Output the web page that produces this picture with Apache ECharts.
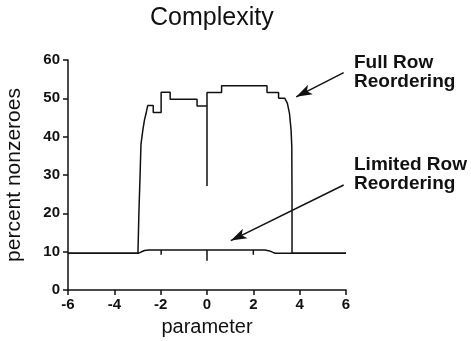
<!DOCTYPE html>
<html>
<head>
<meta charset="utf-8">
<script src="https://cdn.jsdelivr.net/npm/echarts@6/dist/echarts.min.js"></script>
<style>
  html, body { margin: 0; padding: 0; background: #fff; }
  #chart { width: 471px; height: 341px; }
</style>
</head>
<body>
<div id="chart"></div>
<script>
// 数据：从图上读出来的值
const xTicks = [-6, -4, -2, 0, 2, 4, 6];
const yTicks = [0, 10, 20, 30, 40, 50, 60];

// Full Row Reordering 曲线 [parameter, percent]
const fullRow = [
    [-6, 9.6], [-2.98, 9.6], [-2.94, 20], [-2.89, 29.6], [-2.85, 38], [-2.77, 41.7],
    [-2.70, 44.3], [-2.63, 46.1], [-2.56, 48.1], [-2.32, 48.1], [-2.32, 46.3],
    [-1.98, 46.3], [-1.98, 51.6], [-1.59, 51.6], [-1.59, 49.75], [-0.43, 49.75],
    [-0.43, 48.0], [0, 48.0], [0, 27.1], [0, 51.5], [0.63, 51.5], [0.63, 53.3],
    [2.59, 53.3], [2.59, 51.5], [3.09, 51.5], [3.09, 50.0], [3.36, 50.0],
    [3.47, 48.7], [3.56, 46.1], [3.63, 41.7], [3.66, 37.4], [3.67, 25], [3.67, 9.6],
    [6, 9.6]
];

// Limited Row Reordering 曲线（含 -2, 0, 2 处的小刻线）
const limitedRow = [
    [-6, 9.6], [-2.95, 9.6], [-2.85, 9.9], [-2.7, 10.3], [-2.5, 10.45],
    [-1.98, 10.45], [-1.98, 9.2], [-1.98, 10.45], [0, 10.45], [0, 7.6], [0, 10.45],
    [2, 10.45], [2, 9.2], [2, 10.45], [2.5, 10.45], [2.7, 10.2], [2.85, 9.8],
    [2.95, 9.6], [6, 9.6]
];

// 箭头（数据坐标）：起点 -> 箭头尖
const fullArrow = [[5.9, 56.7], [3.85, 50.4]];
const limitedArrow = [[5.9, 27.4], [1.03, 12.9]];

const chart = echarts.init(document.getElementById('chart'));
const ink = '#111';
const font = 'Liberation Sans, Arial, sans-serif';

function arrowLine(pts) {
    return {
        silent: true,
        symbol: ['none', 'arrow'],
        symbolSize: [8, 16],
        label: { show: false },
        lineStyle: { color: ink, width: 1.5, type: 'solid' },
        data: [[{ coord: pts[0] }, { coord: pts[1] }]]
    };
}

chart.setOption({
    animation: false,
    backgroundColor: '#fff',
    title: {
        text: 'Complexity',
        left: 145, top: 1,
        textStyle: { fontFamily: font, fontSize: 25, fontWeight: 'normal', color: ink }
    },
    // 固定绘图区，不让标签挤压
    grid: { left: 68, right: 125, top: 60, bottom: 51, containLabel: false, outerBoundsMode: 'none' },
    xAxis: {
        type: 'value',
        min: xTicks[0], max: xTicks[xTicks.length - 1], interval: 2,
        name: 'parameter',
        nameLocation: 'middle',
        nameGap: 27,
        nameTextStyle: { fontFamily: font, fontSize: 20, color: ink },
        axisLine: { lineStyle: { color: ink, width: 1.5 } },
        axisTick: { length: 5, lineStyle: { color: ink, width: 1.5 } },
        axisLabel: { fontFamily: font, fontSize: 15, fontWeight: 'bold', color: ink, margin: 7 },
        splitLine: { show: false }
    },
    yAxis: {
        type: 'value',
        min: yTicks[0], max: yTicks[yTicks.length - 1], interval: 10,
        name: 'percent nonzeroes',
        nameLocation: 'middle',
        nameGap: 43,
        nameTextStyle: { fontFamily: font, fontSize: 21, color: ink },
        axisLine: { show: true, onZero: false, lineStyle: { color: ink, width: 1.5 } },
        axisTick: { show: true, length: 5, lineStyle: { color: ink, width: 1.5 } },
        axisLabel: { fontFamily: font, fontSize: 15, fontWeight: 'bold', color: ink, margin: 8 },
        splitLine: { show: false }
    },
    series: [
        {
            name: 'Full Row Reordering',
            type: 'line',
            data: fullRow,
            showSymbol: false,
            lineStyle: { color: ink, width: 1.5 },
            markLine: arrowLine(fullArrow)
        },
        {
            name: 'Limited Row Reordering',
            type: 'line',
            data: limitedRow,
            showSymbol: false,
            lineStyle: { color: ink, width: 1.5 },
            markLine: arrowLine(limitedArrow)
        }
    ],
    graphic: [
        {
            type: 'text', left: 354, top: 53,
            style: { text: 'Full Row\nReordering', font: 'bold 19px ' + font, fill: ink, lineHeight: 19 }
        },
        {
            type: 'text', left: 354, top: 155,
            style: { text: 'Limited Row\nReordering', font: 'bold 19px ' + font, fill: ink, lineHeight: 19 }
        }
    ]
});
</script>
</body>
</html>
